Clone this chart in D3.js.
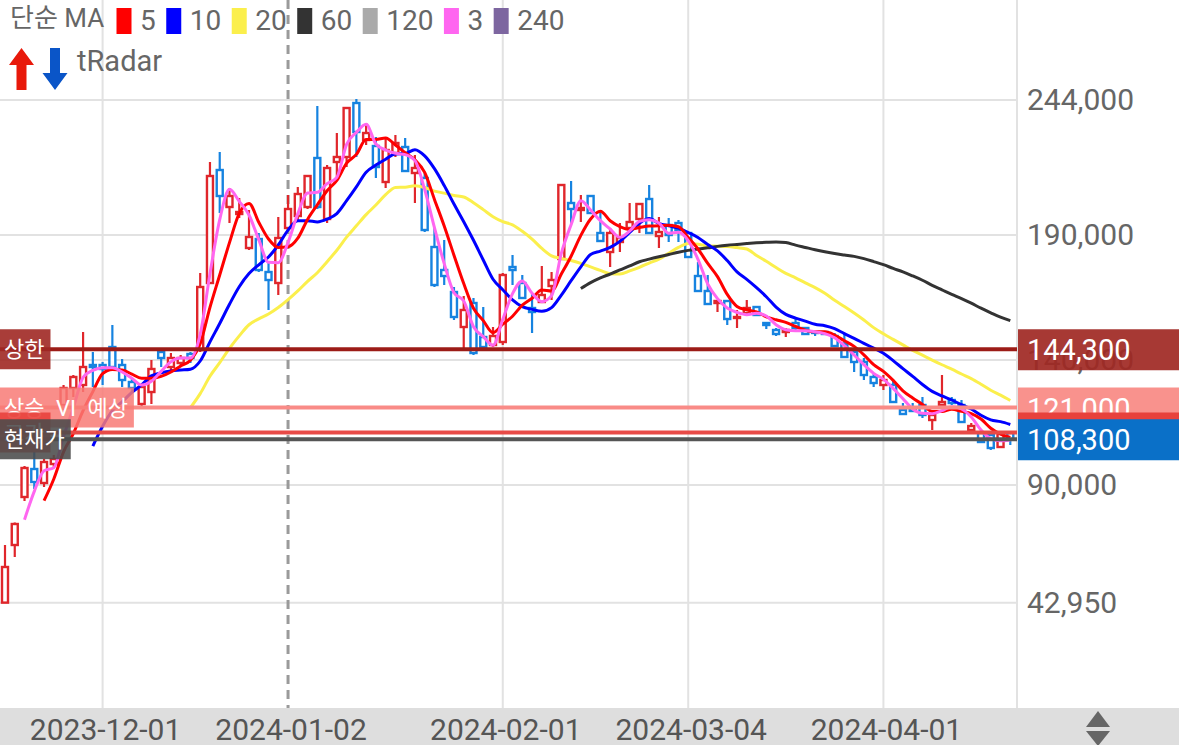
<!DOCTYPE html>
<html>
<head>
<meta charset="utf-8">
<script src="https://cdn.jsdelivr.net/npm/d3@7"></script>
<style>
  body { margin: 0; background: #fff; }
  svg { display: block; font-family: Roboto, "Noto Sans CJK KR", sans-serif; }
</style>
</head>
<body>
<svg id="chart" width="1179" height="745"></svg>
<script>
// daily candles (index 0 = first trading day)
var opens = [42950, 66000, 85200, 96400, 90800, 98400, 122000, 128800, 130000, 138000,
  138000, 145200, 138000, 131200, 122400, 127200, 143200, 137200, 138800, 142400,
  144000, 170800, 216000, 201200, 198400, 184800, 188400, 175200, 170800, 192800,
  197600, 201200, 220800, 196400, 219200, 221200, 242800, 228000, 225600, 211200,
  222800, 225200, 214800, 212800, 185200, 176000, 167200, 153200, 162800, 149200,
  146000, 147200, 177200, 170800, 160800, 163200, 169600, 180400, 202800, 200000,
  205600, 190800, 183200, 187200, 192800, 196400, 204400, 189600, 194000, 194800,
  190800, 173600, 167600, 162800, 163600, 156800, 158800, 161200, 154800, 152000,
  151200, 154800, 152800, 151200, 151200, 149600, 146400, 143200, 139200, 133200,
  130000, 130000, 120000, 120400, 122000, 116000, 122000, 124000, 122000, 112000,
  110800, 110000, 105200, 110800];
var highs = [66000, 75000, 97600, 103200, 100400, 102000, 130000, 134000, 151200, 143200,
  139200, 154000, 140400, 132800, 130000, 140000, 144000, 142800, 142000, 143200,
  174800, 219200, 223200, 208800, 204800, 200000, 190800, 178800, 197200, 206000,
  209200, 214000, 241600, 218000, 230800, 241200, 244400, 234800, 229200, 228800,
  230000, 228800, 222000, 214800, 192800, 188000, 169200, 165600, 164800, 161200,
  153200, 174800, 182000, 174000, 166800, 177600, 175200, 210400, 211600, 206000,
  206000, 200000, 192800, 194800, 202800, 202800, 210000, 197200, 196800, 196000,
  191200, 179200, 174000, 164000, 164000, 160000, 164000, 161600, 154800, 152800,
  152800, 156400, 153200, 151200, 151600, 150800, 150800, 144800, 140800, 134800,
  134000, 132000, 122800, 122800, 125200, 120000, 134000, 125200, 124000, 114800,
  111200, 110800, 111200, 111000];
var lows = [42950, 61200, 83600, 88400, 89200, 97200, 120000, 125200, 127200, 129200,
  130000, 136000, 129200, 127200, 121600, 122400, 137200, 134800, 137200, 138800,
  143200, 170800, 198800, 194800, 196800, 184000, 175200, 160000, 166000, 192000,
  195200, 200400, 200400, 194800, 212000, 217200, 221200, 226000, 212800, 208800,
  221200, 215200, 202800, 191200, 169200, 170000, 156000, 144000, 142000, 144800,
  145200, 146000, 170000, 164800, 150800, 163200, 164000, 180000, 194800, 195200,
  198400, 187200, 177200, 183200, 190800, 190800, 190400, 184800, 187200, 187200,
  180800, 167200, 162000, 159200, 154000, 152800, 158000, 157600, 152400, 149600,
  149200, 152000, 150000, 149600, 150000, 145200, 140800, 135200, 132000, 129200,
  128000, 122800, 118000, 119200, 116800, 112000, 121600, 122000, 114800, 110800,
  106800, 104000, 105200, 106000];
var closes = [57200, 74400, 96800, 91200, 99200, 100400, 128800, 133200, 137200, 137200,
  136400, 137200, 132000, 128800, 129200, 136400, 140800, 140800, 140800, 140800,
  169200, 213600, 205600, 205600, 199200, 189200, 176000, 172000, 188800, 200400,
  206400, 213600, 201200, 216800, 221200, 240800, 231200, 230800, 217200, 224000,
  226800, 215600, 216800, 192000, 170000, 173600, 157200, 160000, 142800, 145200,
  149600, 174000, 176000, 164800, 159200, 166000, 172000, 210000, 200400, 200800,
  198800, 187600, 190800, 188800, 195200, 202400, 190800, 191200, 190000, 192000,
  181200, 167600, 162400, 163600, 156400, 157200, 160800, 158000, 154000, 150400,
  152000, 152800, 150400, 150800, 150400, 145600, 141200, 139200, 134000, 130800,
  132000, 123200, 118400, 119600, 118000, 118000, 123200, 122800, 115200, 113600,
  107200, 104800, 111000, 108300];

var maPeriods = [5, 10, 20, 60, 120, 3, 240];
var maColors = ["#ff0000", "#0000ff", "#fbef4c", "#333333", "#aaaaaa", "#ff66f0", "#7d66a0"];

var yTicks = [244000, 190000, 140000, 90000, 42950];
var dateTicks = ["2023-12-01", "2024-01-02", "2024-02-01", "2024-03-04", "2024-04-01"];
var dateTickIdx = [10, 29, 51, 70, 90];
var yearBreakIdx = 29;

// price marker lines: upper limit, expected VI, day high, current price
var markNames = ["상한", "상승 VI 예상", "고가", "현재가"];
var markValues = [144300, 121000, 111000, 108300];
var markLineColors = ["#9c1c17", "#f98b87", "#e84a47", "#555555"];
var markLeftColors = ["rgba(160,40,35,0.9)", "rgba(248,122,118,0.85)", "rgba(232,65,60,0.9)", "rgba(75,75,75,0.88)"];
var markRightColors = ["rgba(160,40,35,0.92)", "rgba(249,140,135,0.95)", "rgba(232,65,60,1)", "rgba(10,112,200,1)"];

var W = 1179, H = 745, plotR = 1017, plotB = 708;
var svg = d3.select("#chart");

var x = d3.scaleLinear().domain([0, 103]).range([5, 1010.3]);
var y = d3.scaleLinear().domain([90000, 244000]).range([485, 100]);

var candles = closes.map(function (c, i) {
  return { i: i, o: opens[i], h: highs[i], l: lows[i], c: c };
});

svg.append("defs").append("clipPath").attr("id", "plot")
  .append("rect").attr("x", 0).attr("y", 0).attr("width", plotR).attr("height", plotB);

// grid
var grid = svg.append("g");
grid.selectAll("line.h")
  .data(yTicks)
  .enter()
  .append("line")
  .attr("x1", 0).attr("x2", plotR)
  .attr("y1", function (d) { return y(d); })
  .attr("y2", function (d) { return y(d); })
  .attr("stroke", "#e2e2e2").attr("stroke-width", 2);
grid.selectAll("line.v")
  .data(dateTickIdx.filter(function (d) { return d !== yearBreakIdx; }))
  .enter()
  .append("line")
  .attr("x1", function (d) { return x(d); })
  .attr("x2", function (d) { return x(d); })
  .attr("y1", 0).attr("y2", plotB)
  .attr("stroke", "#e2e2e2").attr("stroke-width", 2);
grid.append("line")
  .attr("x1", plotR).attr("x2", plotR).attr("y1", 0).attr("y2", plotB)
  .attr("stroke", "#e2e2e2").attr("stroke-width", 2);
grid.append("line")
  .attr("x1", x(yearBreakIdx)).attr("x2", x(yearBreakIdx))
  .attr("y1", 0).attr("y2", plotB)
  .attr("stroke", "#9a9a9a").attr("stroke-width", 3)
  .attr("stroke-dasharray", "9,6");

var plot = svg.append("g").attr("clip-path", "url(#plot)");

// candles
function col(d) { return d.c >= d.o ? "#e0262b" : "#1683e0"; }
var cg = plot.append("g")
  .selectAll("g")
  .data(candles)
  .enter()
  .append("g");
cg.append("line")
  .attr("x1", function (d) { return x(d.i); })
  .attr("x2", function (d) { return x(d.i); })
  .attr("y1", function (d) { return y(d.h); })
  .attr("y2", function (d) { return y(d.l); })
  .attr("stroke", col).attr("stroke-width", 2.2);
cg.append("rect")
  .attr("x", function (d) { return x(d.i) - 3; })
  .attr("width", 6)
  .attr("y", function (d) { return y(Math.max(d.o, d.c)); })
  .attr("height", function (d) { return Math.max(1, Math.abs(y(d.o) - y(d.c))); })
  .attr("fill", "#fff")
  .attr("stroke", col).attr("stroke-width", 2.4);

// moving averages
function movingAvg(n) {
  var out = [];
  for (var i = n - 1; i < closes.length; i++) {
    out.push({ i: i, v: d3.mean(closes.slice(i - n + 1, i + 1)) });
  }
  return out;
}
var line = d3.line()
  .x(function (d) { return x(d.i); })
  .y(function (d) { return y(d.v); })
  .curve(d3.curveMonotoneX);
[20, 60, 10, 5, 3].forEach(function (n) {
  var pts = movingAvg(n);
  if (!pts.length) return;
  plot.append("path")
    .datum(pts)
    .attr("d", line)
    .attr("fill", "none")
    .attr("stroke", maColors[maPeriods.indexOf(n)])
    .attr("stroke-width", 3);
});

// marker lines
plot.selectAll("line.mark")
  .data(markValues)
  .enter()
  .append("line")
  .attr("x1", 0).attr("x2", plotR)
  .attr("y1", function (d) { return y(d); })
  .attr("y2", function (d) { return y(d); })
  .attr("stroke", function (d, i) { return markLineColors[i]; })
  .attr("stroke-width", 4);

// right axis labels
svg.append("g")
  .selectAll("text")
  .data(yTicks)
  .enter()
  .append("text")
  .attr("x", 1027)
  .attr("y", function (d) { return y(d) + 10; })
  .attr("font-size", 30)
  .attr("fill", "#666")
  .text(function (d) { return d3.format(",")(d); });

// marker labels, left and right
var fmt = d3.format(",");
markValues.forEach(function (v, i) {
  var cy = y(v);
  var lbl = svg.append("g");
  var t = lbl.append("text")
    .attr("x", 4).attr("y", cy + 8)
    .attr("font-size", 22).attr("fill", "#fff")
    .attr("word-spacing", 6)
    .text(markNames[i]);
  var tw = t.node().getComputedTextLength();
  lbl.insert("rect", "text")
    .attr("x", 0).attr("y", cy - 20)
    .attr("width", tw + 10).attr("height", 40)
    .attr("fill", markLeftColors[i]);
  var r = svg.append("g");
  r.append("rect")
    .attr("x", 1018).attr("y", cy - 20)
    .attr("width", W - 1018).attr("height", 41)
    .attr("fill", markRightColors[i]);
  r.append("text")
    .attr("x", 1027).attr("y", cy + 11)
    .attr("font-size", 29).attr("fill", "#fff")
    .text(fmt(v));
});

// legend
var lg = svg.append("g");
lg.append("text").attr("x", 10).attr("y", 27)
  .attr("font-size", 26).attr("fill", "#666").text("단순 MA");
var lx = 116.5;
maPeriods.forEach(function (p, i) {
  lg.append("rect").attr("x", lx).attr("y", 8).attr("width", 15).attr("height", 26)
    .attr("fill", maColors[i]);
  var t = lg.append("text").attr("x", lx + 23.5).attr("y", 30)
    .attr("font-size", 28).attr("fill", "#666").text(p);
  lx += 23.5 + t.node().getComputedTextLength() + 10.5;
});
// tRadar with arrows
lg.append("path")
  .attr("d", "M21.5,48 L34,65 L26.5,65 L26.5,90 L16.5,90 L16.5,65 L9,65 Z")
  .attr("fill", "#e8190a");
lg.append("path")
  .attr("d", "M55,90 L42.5,73 L50,73 L50,48 L60,48 L60,73 L67.5,73 Z")
  .attr("fill", "#0a55c8");
lg.append("text").attr("x", 77).attr("y", 71)
  .attr("font-size", 29).attr("fill", "#666").text("tRadar");

// bottom date bar
svg.append("rect").attr("x", 0).attr("y", plotB).attr("width", W).attr("height", H - plotB)
  .attr("fill", "#dedede");
svg.append("g")
  .selectAll("text")
  .data(dateTicks)
  .enter()
  .append("text")
  .attr("x", function (d, i) { return x(dateTickIdx[i]) + 3; })
  .attr("y", 740)
  .attr("text-anchor", "middle")
  .attr("font-size", 30)
  .attr("fill", "#555")
  .text(function (d) { return d; });
svg.append("path").attr("d", "M1098,711 L1110,727 L1086,727 Z").attr("fill", "#666");
svg.append("path").attr("d", "M1098,746 L1110,731 L1086,731 Z").attr("fill", "#666");
</script>
</body>
</html>
